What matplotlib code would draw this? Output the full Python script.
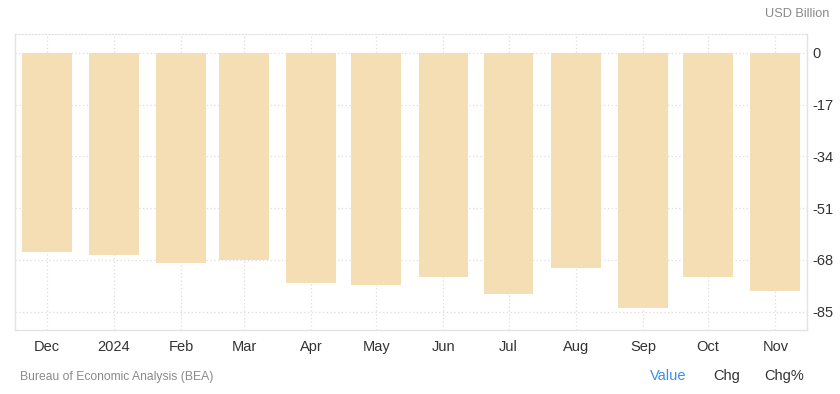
import pandas as pd
import matplotlib
matplotlib.use("Agg")
import matplotlib.pyplot as plt

plt.rcParams['font.family'] = ['Liberation Sans', 'DejaVu Sans']

# Торговый баланс США, млрд долл.
months = ["2023-12-01", "2024-01-01", "2024-02-01", "2024-03-01", "2024-04-01", "2024-05-01",
          "2024-06-01", "2024-07-01", "2024-08-01", "2024-09-01", "2024-10-01", "2024-11-01"]
values = [-65.3, -66.5, -69.1, -68.1, -75.7, -76.3, -73.7, -79.3, -70.8, -83.9, -73.7, -78.3]
tick_labels = ["Dec", "2024", "Feb", "Mar", "Apr", "May", "Jun", "Jul", "Aug", "Sep", "Oct", "Nov"]
y_ticks = [0, -17, -34, -51, -68, -85]

dates = pd.to_datetime(months)

fig = plt.figure(figsize=(8.4, 3.94), dpi=100)
ax = fig.add_axes([0.0175, 0.1624, 0.9432, 0.7513])

ax.bar(dates, values, width=23, color="#f5deb3", zorder=2)

ax.set_xlim(dates[0] - pd.Timedelta(days=14.7), dates[-1] + pd.Timedelta(days=14.6))
ax.set_ylim(-91, 6.2)

ax.set_xticks(dates)
ax.set_xticklabels(tick_labels)
ax.set_yticks(y_ticks)
ax.set_yticklabels([str(v) for v in y_ticks])
ax.yaxis.tick_right()
ax.tick_params(axis="both", length=0, labelsize=10.5, colors="#333333")
ax.tick_params(axis="x", pad=7)
ax.tick_params(axis="y", pad=4)

ax.grid(True, linestyle=(0, (1, 2)), color="#dddddd", linewidth=0.9, zorder=0)
for side in ["left", "right", "bottom"]:
    ax.spines[side].set_color("#e3e3e3")
    ax.spines[side].set_linewidth(1.0)
ax.spines["top"].set_linestyle((0, (1, 2)))
ax.spines["top"].set_color("#dddddd")

fig.text(829 / 840, 1 - 14 / 394, "USD Billion", ha="right", va="center", fontsize=9.2, color="#8a8a8a")
fig.text(20 / 840, 1 - 377 / 394, "Bureau of Economic Analysis (BEA)", ha="left", va="center",
         fontsize=8.7, color="#8a8a8a")
fig.text(668 / 840, 1 - 376 / 394, "Value", ha="center", va="center", fontsize=10.5, color="#3c8ff0")
fig.text(727 / 840, 1 - 376 / 394, "Chg", ha="center", va="center", fontsize=10.5, color="#333333")
fig.text(784 / 840, 1 - 376 / 394, "Chg%", ha="center", va="center", fontsize=10.5, color="#333333")

fig.savefig("out.png", dpi=100)
plt.close(fig)
